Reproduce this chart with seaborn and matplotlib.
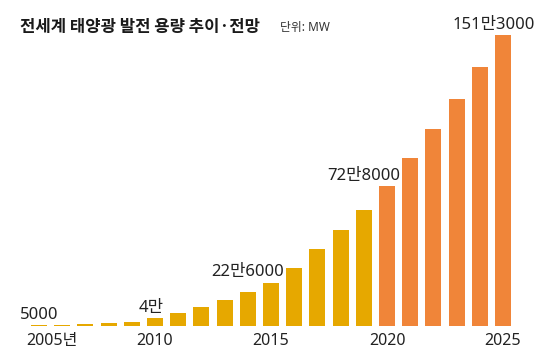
import pandas as pd
import seaborn as sns
import matplotlib.pyplot as plt

# ========= data (MW) =========
years = list(range(2005, 2026))
capacity = [5000, 6500, 9000, 15000, 23000,
            40000, 68000, 100000, 137000, 177000,
            226000, 302000, 399000, 497000, 602000,
            728000, 871000, 1022000, 1181000, 1345000,
            1513000]
phase = ["actual"] * 15 + ["forecast"] * 6
tick_years = [2005, 2010, 2015, 2020, 2025]
tick_labels = ["2005년", "2010", "2015", "2020", "2025"]
value_labels = {2005: "5000", 2010: "4만", 2015: "22만6000",
                2020: "72만8000", 2025: "151만3000"}

df = pd.DataFrame({"year": years, "capacity": capacity, "phase": phase})

# ========= fonts =========
sns.set_style("white")
plt.rcParams["font.family"] = ["Noto Sans", "Noto Sans CJK KR", "DejaVu Sans"]

# ========= plot =========
fig = plt.figure(figsize=(5.43, 3.54), dpi=100)
ax = fig.add_axes([0.0419, 0.0791, 0.9144, 0.822])

sns.barplot(data=df, x="year", y="capacity", hue="phase",
            palette={"actual": "#E6A800", "forecast": "#F08539"},
            dodge=False, width=0.69, legend=False, saturation=1,
            linewidth=0, ax=ax)

ax.set_xlim(-0.7, 20.7)
ax.set_ylim(0, 1513000)
sns.despine(ax=ax, left=True, bottom=True)
ax.set_yticks([])
ax.set_xlabel("")
ax.set_ylabel("")

# first label carries "년", so it sits a bit to the right
pos = [years.index(y) for y in tick_years]
pos[0] += 0.55
ax.set_xticks(pos)
ax.set_xticklabels(tick_labels, fontsize=11.5, color="#222222")
ax.tick_params(axis="x", length=0, pad=5)

# value labels above selected bars
label_dx = {2005: 0.0, 2010: -0.15, 2015: -1.0, 2020: -1.0, 2025: -0.4}
for yr, txt in value_labels.items():
    i = years.index(yr)
    ax.annotate(txt, (i + label_dx[yr], capacity[i]),
                xytext=(0, 1.5), textcoords="offset points",
                ha="center", va="bottom", fontsize=12, color="#222222")

fig.text(0.037, 0.923, "전세계 태양광 발전 용량 추이·전망",
         fontsize=12, fontweight="bold", color="#1a1a1a",
         family=["Noto Sans CJK KR", "DejaVu Sans"], va="center")
fig.text(0.516, 0.923, "단위: MW", fontsize=8.5, color="#333333",
         va="center")

fig.savefig("out.png", dpi=100)
